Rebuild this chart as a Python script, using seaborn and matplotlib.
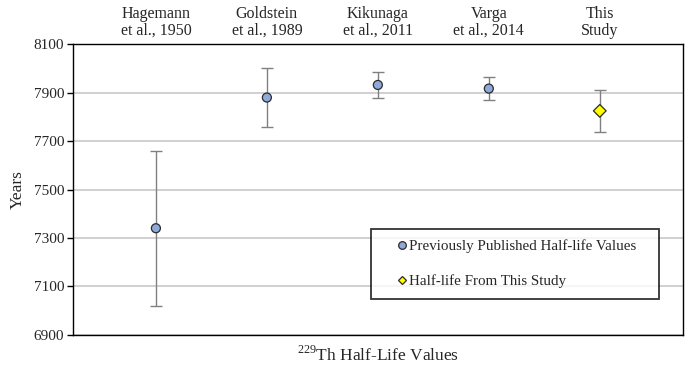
import numpy as np
import pandas as pd
import matplotlib
matplotlib.use("Agg")
import matplotlib.pyplot as plt
from matplotlib.lines import Line2D
import seaborn as sns

    #----------------------------------------------------
    # DATA
    #----------------------------------------------------

studies = ["Hagemann\net al., 1950", "Goldstein\net al., 1989", "Kikunaga\net al., 2011",
           "Varga\net al., 2014", "This\nStudy"]
half_life = [7340, 7880, 7932, 7917, 7825]
uncertainty = [320, 120, 55, 49, 87]
group = ["Previously Published Half-life Values"] * 4 + ["Half-life From This Study"]

y_ticks = [6900, 7100, 7300, 7500, 7700, 7900, 8100]

    #----------------------------------------------------
    # STYLE
    #----------------------------------------------------

sns.set_theme(style="white")
plt.rcParams["font.family"] = ["Liberation Serif", "DejaVu Serif"]
plt.rcParams["mathtext.fontset"] = "custom"
plt.rcParams["mathtext.rm"] = "Liberation Serif"

blue = "#8EAADB"
yellow = "#FFFF00"
edge = "#2B2B2B"
palette = {group[0]: blue, group[-1]: yellow}
markers = {group[0]: "o", group[-1]: "D"}

df = pd.DataFrame({"pos": np.arange(1, len(studies) + 1), "value": half_life,
                   "err": uncertainty, "group": group})

fig = plt.figure(figsize=(6.85, 3.71), dpi=100)
ax = fig.add_axes([0.1061, 0.0978, 0.8910, 0.7828])

# error bars first so the markers sit on top
ax.errorbar(df["pos"], df["value"], yerr=df["err"], fmt="none", ecolor="#808080",
            elinewidth=1.0, capsize=4.5, capthick=1.0, zorder=2)

sns.scatterplot(data=df, x="pos", y="value", hue="group", style="group",
                palette=palette, markers=markers, s=42, edgecolor=edge,
                linewidth=0.9, legend=False, ax=ax, zorder=3)

ax.set_xlim(0.25, 5.75)
ax.set_ylim(6900, 8100)
ax.set_yticks(y_ticks)
ax.set_xticks([])
ax.yaxis.grid(True, color="#C4C4C4", linewidth=1.1)
ax.set_axisbelow(True)
for s in ax.spines.values():
    s.set_visible(True)
    s.set_color("black")
    s.set_linewidth(1.0)
ax.tick_params(axis="y", which="major", left=True, length=4, width=1.0,
               color="black", labelsize=11, pad=2)

ax.set_ylabel("Years", fontsize=12.5, labelpad=6)
ax.set_xlabel(r"$^{229}$Th Half-Life Values", fontsize=12.5, labelpad=8)

# study names above the frame
top = ax.secondary_xaxis("top")
top.set_xticks(df["pos"])
top.set_xticklabels(studies, fontsize=11.5, linespacing=1.05)
top.tick_params(length=0, pad=4)
top.spines["top"].set_visible(False)

handles = [
    Line2D([], [], linestyle="none", marker="o", markersize=5.5, markerfacecolor=blue,
           markeredgecolor=edge, markeredgewidth=0.9, label=group[0]),
    Line2D([], [], linestyle="none", marker="D", markersize=4.3, markerfacecolor=yellow,
           markeredgecolor=edge, markeredgewidth=0.9, label=group[-1]),
]
leg = ax.legend(handles=handles, loc="upper left", bbox_to_anchor=(0.489, 0.364, 0.471, 0.0),
                mode="expand", borderaxespad=0, fontsize=10.8, frameon=True, fancybox=False,
                borderpad=0.7, labelspacing=1.42, handlelength=2.7, handletextpad=-0.88)
leg.get_frame().set_edgecolor("black")
leg.get_frame().set_linewidth(1.3)

fig.savefig("out.png", dpi=100)
